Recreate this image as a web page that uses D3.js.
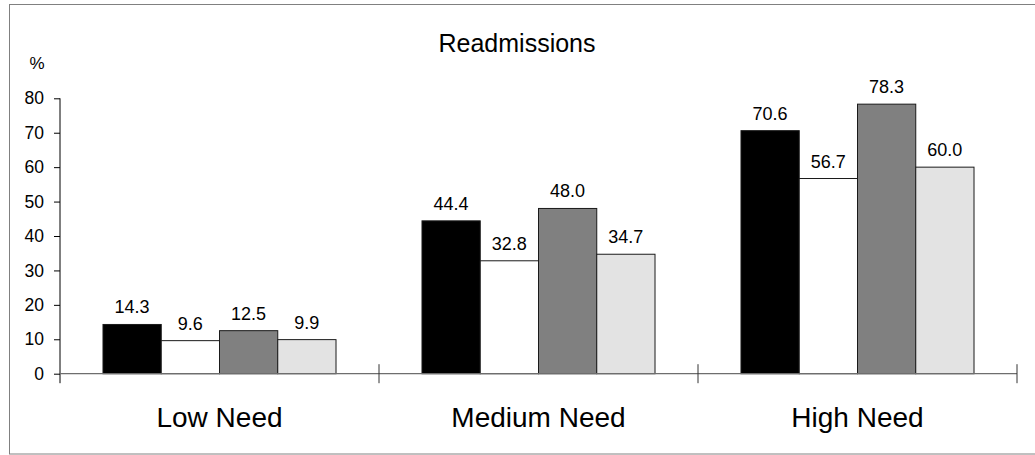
<!DOCTYPE html>
<html>
<head>
<meta charset="utf-8">
<script src="https://cdn.jsdelivr.net/npm/d3@7"></script>
<style>
  html, body { margin: 0; padding: 0; background: #fff; }
  svg { display: block; font-family: "Liberation Sans", Arial, sans-serif; }
</style>
</head>
<body>
<svg id="chart" width="1035" height="455"></svg>
<script>
const title = "Readmissions";
const yUnit = "%";
const categories = ["Low Need", "Medium Need", "High Need"];
const seriesNames = ["Series 1", "Series 2", "Series 3", "Series 4"];
const series1 = [14.3, 44.4, 70.6];
const series2 = [9.6, 32.8, 56.7];
const series3 = [12.5, 48.0, 78.3];
const series4 = [9.9, 34.7, 60.0];
const seriesColors = ["#000000", "#ffffff", "#808080", "#e3e3e3"];
const yTicks = [0, 10, 20, 30, 40, 50, 60, 70, 80];

const allSeries = [series1, series2, series3, series4];

const svg = d3.select("#chart");

// outer frame
svg.append("rect")
  .attr("x", 9.5).attr("y", 4.5)
  .attr("width", 1040).attr("height", 449.5)
  .attr("fill", "none").attr("stroke", "#808080").attr("stroke-width", 1);

const plotLeft = 60, plotRight = 1017, zeroY = 373.7, topY = 98.3;

const x0 = d3.scaleBand().domain(categories).range([plotLeft, plotRight]).padding(0);
const x1 = d3.scaleBand().domain(seriesNames).range([0, x0.bandwidth()])
  .paddingInner(0).paddingOuter(0.738);
const y = d3.scaleLinear().domain([0, 80]).range([zeroY, topY]);

// title
svg.append("text")
  .attr("x", 517).attr("y", 52)
  .attr("text-anchor", "middle")
  .attr("font-size", 25)
  .attr("fill", "#000")
  .text(title);

// % label
svg.append("text")
  .attr("x", 37).attr("y", 69)
  .attr("text-anchor", "middle")
  .attr("font-size", 17)
  .text(yUnit);

// bars
const groups = svg.append("g").selectAll("g")
  .data(categories)
  .join("g")
  .attr("transform", d => `translate(${x0(d)},0)`);

groups.selectAll("rect")
  .data((c, ci) => seriesNames.map((s, si) => ({ s, si, v: allSeries[si][ci] })))
  .join("rect")
  .attr("x", d => x1(d.s))
  .attr("y", d => y(d.v))
  .attr("width", x1.bandwidth())
  .attr("height", d => y(0) - y(d.v))
  .attr("fill", d => seriesColors[d.si])
  .attr("stroke", "#1a1a1a")
  .attr("stroke-width", 1);

groups.selectAll("text")
  .data((c, ci) => seriesNames.map((s, si) => ({ s, si, v: allSeries[si][ci] })))
  .join("text")
  .attr("x", d => x1(d.s) + x1.bandwidth() / 2)
  .attr("y", d => y(d.v) - 11)
  .attr("text-anchor", "middle")
  .attr("font-size", 18)
  .attr("fill", "#000")
  .text(d => d.v.toFixed(1));

// y axis
const yAxis = d3.axisLeft(y).tickValues(yTicks).tickSize(6).tickPadding(10);
const gy = svg.append("g").attr("transform", `translate(${plotLeft},0)`).call(yAxis);
gy.select(".domain").remove();
gy.selectAll(".tick line").attr("stroke", "#000");
gy.selectAll(".tick text").attr("font-size", 17.5).attr("font-family", "Liberation Sans, Arial, sans-serif").attr("fill", "#000");
gy.append("line")
  .attr("x1", 0).attr("x2", 0)
  .attr("y1", topY).attr("y2", zeroY + 9.5)
  .attr("stroke", "#000");

// x axis
svg.append("line")
  .attr("x1", plotLeft).attr("x2", plotRight)
  .attr("y1", zeroY).attr("y2", zeroY)
  .attr("stroke", "#6e6e6e").attr("stroke-width", 1.2);

const boundaries = categories.map(c => x0(c) + x0.bandwidth());
svg.append("g").selectAll("line")
  .data(boundaries)
  .join("line")
  .attr("x1", d => d).attr("x2", d => d)
  .attr("y1", zeroY - 9.5).attr("y2", zeroY + 9.5)
  .attr("stroke", "#333");

svg.append("g").selectAll("text")
  .data(categories)
  .join("text")
  .attr("x", d => x0(d) + x0.bandwidth() / 2)
  .attr("y", 427)
  .attr("text-anchor", "middle")
  .attr("font-size", 28)
  .attr("fill", "#000")
  .text(d => d);
</script>
</body>
</html>
